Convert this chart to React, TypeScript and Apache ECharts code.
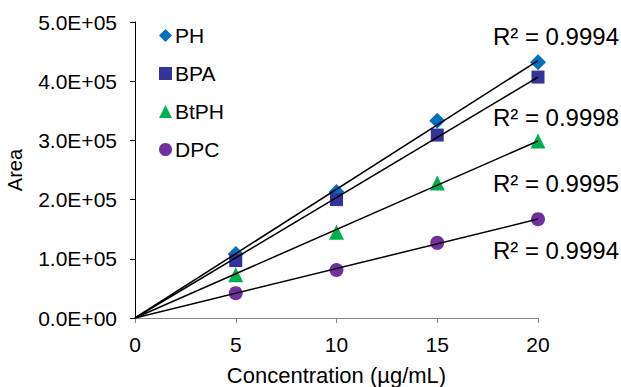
import React, { useEffect, useRef } from "react";
import * as echarts from "echarts";

const concentrations = [5, 10, 15, 20];
const seriesNames = ["PH", "BPA", "BtPH", "DPC"];
const phValues = [108000, 213000, 333000, 432000];
const bpaValues = [97000, 200000, 309000, 407000];
const btphValues = [73000, 145000, 228000, 299000];
const dpcValues = [42000, 81000, 127000, 167000];
const r2Labels = ["R² = 0.9994", "R² = 0.9998", "R² = 0.9995", "R² = 0.9994"];
const xTicks = [0, 5, 10, 15, 20];

const colors = ["#0070C0", "#333399", "#00B050", "#7030A0"];
const diamond = "path://M5,0L10,5L5,10L0,5Z";
const symbols = [diamond, "rect", "triangle", "circle"];
const symbolSizes = [16, 13, 15, 14];

function slopeThroughOrigin(xs: number[], ys: number[]) {
  let sxy = 0, sxx = 0;
  xs.forEach((x, i) => { sxy += x * ys[i]; sxx += x * x; });
  return sxy / sxx;
}

function fmtY(v: number) {
  if (v === 0) return "0.0E+00";
  const exp = Math.floor(Math.log10(Math.abs(v)));
  const m = v / Math.pow(10, exp);
  return m.toFixed(1) + "E+" + String(exp).padStart(2, "0");
}

export default function App() {
  const ref = useRef<HTMLDivElement>(null);
  useEffect(() => {
    if (!ref.current) return;
    const chart = echarts.init(ref.current, undefined, { renderer: "svg" });
    const all = [phValues, bpaValues, btphValues, dpcValues];
    const font = "'Liberation Sans', Arial, sans-serif";
    const scatterSeries = all.map((vals, i) => ({
      name: seriesNames[i],
      type: "scatter",
      symbol: symbols[i],
      symbolSize: symbolSizes[i],
      itemStyle: { color: colors[i], opacity: 1 },
      data: concentrations.map((c, j) => [c, vals[j]]),
      z: 3,
    }));
    const lineSeries = all.map((vals, i) => {
      const s = slopeThroughOrigin(concentrations, vals);
      const xmax = xTicks[xTicks.length - 1];
      return {
        name: "trend" + i,
        type: "line",
        showSymbol: false,
        symbol: "none",
        lineStyle: { color: "#000", width: 1.5 },
        data: [[0, 0], [xmax, s * xmax]],
        z: 4,
        silent: true,
      };
    });
    const labelTops = [24, 105, 171, 238];
    chart.setOption({
      animation: false,
      textStyle: { fontFamily: font },
      grid: { left: 135, right: 83, top: 22, bottom: 69, containLabel: false, outerBoundsMode: "none" },
      legend: {
        data: seriesNames.map((n, i) => ({ name: n, icon: symbols[i] })),
        orient: "vertical",
        left: 159,
        top: 25,
        itemGap: 17,
        itemWidth: 13,
        itemHeight: 13,
        padding: 0,
        textStyle: { fontSize: 21, lineHeight: 21, color: "#000", fontFamily: font, padding: [0, 0, 0, -2] },
      },
      xAxis: {
        type: "value",
        min: 0,
        max: 20,
        interval: 5,
        name: "Concentration (µg/mL)",
        nameLocation: "middle",
        nameGap: 46,
        nameTextStyle: { fontSize: 22, color: "#000", fontFamily: font },
        axisLine: { lineStyle: { color: "#888", width: 1 } },
        axisTick: { show: true, length: 5, lineStyle: { color: "#888" } },
        axisLabel: { fontSize: 21, color: "#000", margin: 16, fontFamily: font },
        splitLine: { show: false },
      },
      yAxis: {
        type: "value",
        min: 0,
        max: 500000,
        interval: 100000,
        name: "Area",
        nameLocation: "middle",
        nameGap: 110,
        nameTextStyle: { fontSize: 20, color: "#000", fontFamily: font },
        axisLine: { show: true, lineStyle: { color: "#000", width: 1 } },
        axisTick: { show: true, length: 5, lineStyle: { color: "#000" } },
        axisLabel: { fontSize: 21, color: "#000", margin: 18, formatter: fmtY, fontFamily: font },
        splitLine: { show: false },
      },
      graphic: r2Labels.map((t, i) => ({
        type: "text",
        right: 2,
        top: labelTops[i],
        style: { text: t, fill: "#000", font: "24px 'Liberation Sans', Arial, sans-serif" },
      })),
      series: [...scatterSeries, ...lineSeries],
    });
    return () => chart.dispose();
  }, []);
  return <div ref={ref} style={{ width: 621, height: 387, position: "absolute", left: 0, top: 0 }} />;
}
